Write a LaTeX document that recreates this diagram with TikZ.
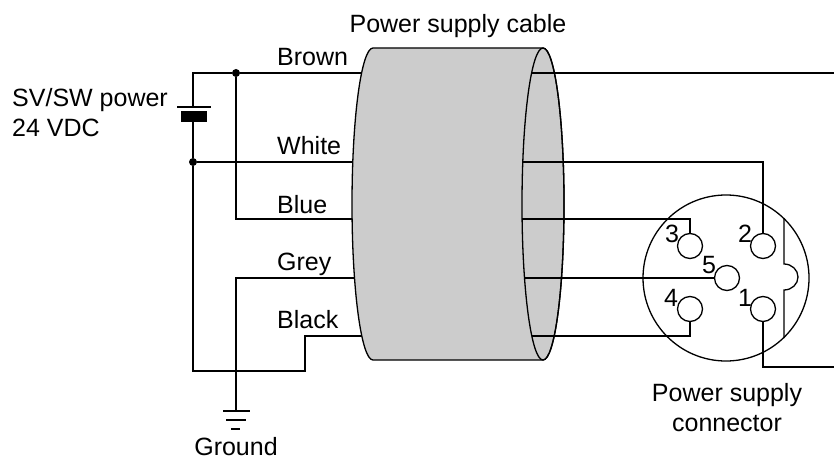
\documentclass[tikz,border=0pt]{standalone}
\usepackage{fontspec}
\setmainfont{Liberation Sans}
\tikzset{
  wire/.style={draw=black, line width=1.3pt},
  dot/.style={shape=circle, fill=black, inner sep=0pt, minimum size=8pt},
  pin/.style={shape=circle, draw=black, line width=1.3pt, inner sep=0pt, minimum size=25pt},
  lbl/.style={inner sep=0pt, anchor=base, font=\fontsize{25}{30}\selectfont},
  tag/.style={lbl, anchor=base west},
}
\begin{document}
\begin{tikzpicture}[x=1pt, y=-1pt]
\useasboundingbox (0,0) rectangle (834,457);
% left hand ends of the wires
\coordinate (brownL) at (365, 73);
\coordinate (whiteL) at (356, 162);
\coordinate (blueL) at (356, 219);
\coordinate (greyL) at (358, 278);
\coordinate (blackL) at (365, 336);
% battery and junctions
\node[dot] (top) at (236, 73) {};
\node[dot] (mid) at (193, 162) {};
\coordinate (corner) at (193, 73);
\coordinate (plus) at (193, 107);
\coordinate (minus) at (193, 122);
\coordinate (foot) at (193, 371);
\coordinate (bluecorner) at (236, 219);
\coordinate (greycorner) at (236, 278);
\coordinate (gnd) at (236, 411);
\coordinate (step1) at (305, 371);
\coordinate (step2) at (305, 336);
\draw[wire] (brownL) -- (top) -- (corner) -- (plus);
\draw[wire] (minus) -- (mid) -- (foot) -- (step1) -- (step2) -- (blackL);
\draw[wire] (whiteL) -- (mid);
\draw[wire] (top) -- (bluecorner) -- (blueL);
\draw[wire] (greyL) -- (greycorner) -- (gnd);
\draw[wire] (177, 107) -- (211, 107);
\fill[black] (181, 111) rectangle (207, 122);
\draw[wire] (223, 411) -- (250, 411);
\draw[wire] (226, 420) -- (246, 420);
\draw[wire] (231, 429) -- (240, 429);
% cable
\draw[wire, fill=black!20] (543, 48) -- (373, 48) arc[start angle=-90, end angle=-270, x radius=21, y radius=156] -- (543, 360) arc[start angle=90, end angle=-90, x radius=21, y radius=156] -- cycle;
\draw[wire] (543, 204) ellipse [x radius=21, y radius=156];
% connector
\node[shape=circle, draw=black, line width=1.3pt, inner sep=0pt, minimum size=166pt] (conn) at (726, 278) {};
\node[pin] (pin1) at (763, 309) {};
\node[pin] (pin2) at (763, 246) {};
\node[pin] (pin3) at (690, 246) {};
\node[pin] (pin4) at (690, 309) {};
\node[pin] (pin5) at (727, 278) {};
\draw[wire] (784, 218) -- (784, 264) arc[start angle=-90, end angle=90, x radius=14, y radius=13] -- (784, 338);
% right hand ends of the wires
\coordinate (brownR) at (531.6, 73);
\coordinate (whiteR) at (522.8, 162);
\coordinate (blueR) at (522.1, 219);
\coordinate (greyR) at (524.5, 278);
\coordinate (blackR) at (531.8, 336);
\coordinate (brownE) at (834, 73);
\coordinate (oneE) at (834, 367);
\draw[wire] (brownR) -- (brownE);
\draw[wire] (whiteR) -| (pin2.north);
\draw[wire] (blueR) -| (pin3.north);
\draw[wire] (greyR) -- (pin5.west);
\draw[wire] (blackR) -| (pin4.south);
\draw[wire] (pin1.south) |- (oneE);
% labels
\node[tag] (brown) at (277, 66) {Brown};
\node[tag] (white) at (277, 154) {White};
\node[tag] (blue) at (277, 213) {Blue};
\node[tag] (grey) at (277, 270) {Grey};
\node[tag] (black) at (277, 328) {Black};
\node[lbl] (title) at (458, 33) {Power supply cable};
\node[tag] (sv) at (12, 107) {SV/SW power};
\node[tag] (vdc) at (12, 137) {24 VDC};
\node[lbl] (ground) at (236, 455) {Ground};
\node[lbl] (name1) at (727, 401) {Power supply};
\node[lbl] (name2) at (727, 431) {connector};
\node[lbl] (n1) at (745, 306) {1};
\node[lbl] (n2) at (745, 242) {2};
\node[lbl] (n3) at (672, 242) {3};
\node[lbl] (n4) at (671, 306) {4};
\node[lbl] (n5) at (709, 273) {5};
\end{tikzpicture}
\end{document}
